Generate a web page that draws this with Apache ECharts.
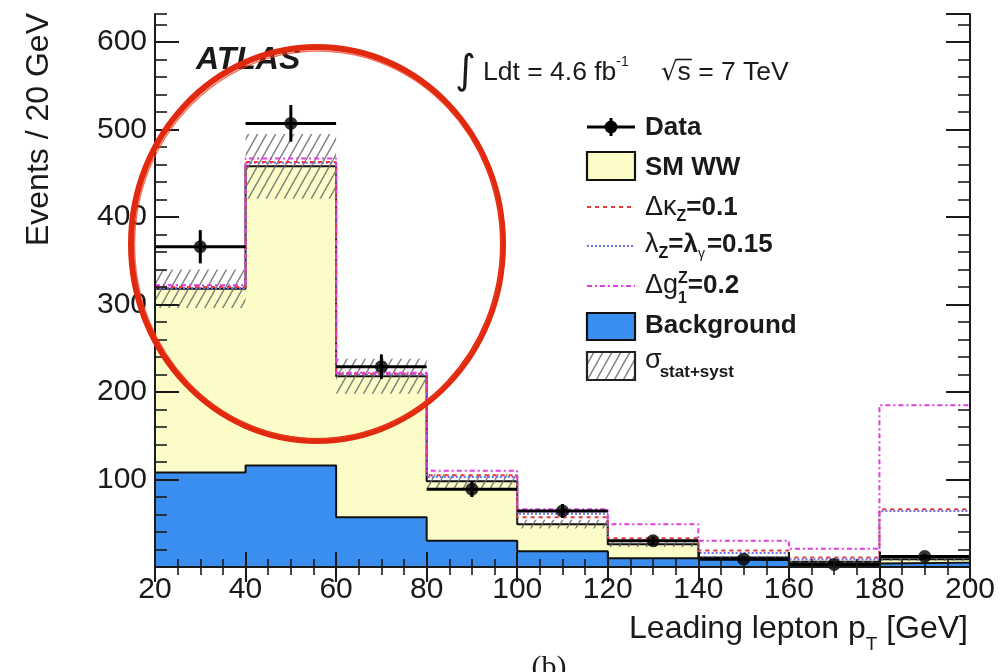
<!DOCTYPE html>
<html>
<head>
<meta charset="utf-8">
<script src="https://cdn.jsdelivr.net/npm/echarts@6/dist/echarts.min.js"></script>
<style>
  html, body { margin: 0; padding: 0; background: #ffffff; }
  #chart { width: 1003px; height: 672px; }
</style>
</head>
<body>
<div id="chart"></div>
<script>
// Leading lepton pT in WW -> l nu l nu events, 4.6 fb^-1 at sqrt(s) = 7 TeV

// bin edges [GeV]
const binEdges = [20, 40, 60, 80, 100, 120, 140, 160, 180, 200];
// observed events per bin and their statistical errors
const dataCounts = [366, 507, 229, 89, 64, 30, 9, 3, 12];
const dataErrors = [19, 21, 14, 9, 8, 5, 3, 2, 3];
// expected background and SM WW signal (stacked on the background)
const backgroundCounts = [108, 116, 57, 30, 18, 10, 8, 4, 5];
const smWWCounts = [210, 342, 161, 68, 31, 16, 3, 2, 4];
// total stat+syst uncertainty on the expectation
const totalUncertainty = [22, 37, 20, 8, 5, 3, 2, 1, 2];
// total expectation with anomalous triple gauge couplings
const dKappaZ = [320, 463, 221, 105, 57, 33, 19, 11, 66];
const lambdaZ = [319, 462, 220, 103, 61, 30, 16, 9, 64];
const dG1Z = [322, 467, 222, 110, 66, 49, 30, 21, 185];

// tick labels
const xTickLabels = [20, 40, 60, 80, 100, 120, 140, 160, 180, 200];
const yTickLabels = [100, 200, 300, 400, 500, 600];

const FAM = "'Liberation Sans', Arial, Helvetica, sans-serif";
const INK = '#1a1a1a';
const YELLOW = '#fcfcc8';
const BLUE = '#3a8ef0';
const RED = '#e23c3c';
const VIOLET = '#6f6ff0';
const MAGENTA = '#e03ce0';

const stackTotal = backgroundCounts.map((b, i) => b + smWWCounts[i]);

// histogram outline points for a step line
function stepPoints(vals) {
  const pts = vals.map((v, i) => [binEdges[i], v]);
  pts.push([binEdges[binEdges.length - 1], vals[vals.length - 1]]);
  return pts;
}

// diagonal hatch pattern for the uncertainty band
function makeHatch() {
  const c = document.createElement('canvas');
  c.width = 9; c.height = 16;
  const g = c.getContext('2d');
  g.strokeStyle = 'rgba(105,105,105,0.85)';
  g.lineWidth = 1.4;
  for (const off of [-9, 0, 9]) {
    g.beginPath();
    g.moveTo(off, 16);
    g.lineTo(off + 9, 0);
    g.stroke();
  }
  return { image: c, repeat: 'repeat' };
}
const hatch = makeHatch();

// text measurement for composed labels with sub/superscripts
const mctx = document.createElement('canvas').getContext('2d');
function textWidth(t, font) { mctx.font = font; return mctx.measureText(t).width; }
function fontOf(p) { return `${p.style || 'normal'} ${p.weight || 'normal'} ${p.size}px ${p.family || FAM}`; }

function textRun(x, y, parts, z) {
  const els = [];
  let cx = x;
  let pendingMax = 0;
  parts.forEach(p => {
    const font = fontOf(p);
    els.push({
      type: 'text', x: cx + (p.dx || 0), y: y + (p.dy || 0), z: z || 50,
      style: { text: p.t, font: font, fill: p.color || INK, align: 'left', verticalAlign: 'middle' }
    });
    const w = textWidth(p.t, font) + (p.gap || 0);
    if (p.overlay) {
      pendingMax = Math.max(pendingMax, w);
    } else {
      cx += Math.max(w, pendingMax);
      pendingMax = 0;
    }
  });
  return { els, width: cx - x };
}
function runWidth(parts) {
  let w = 0, pend = 0;
  parts.forEach(p => {
    const pw = textWidth(p.t, fontOf(p)) + (p.gap || 0);
    if (p.overlay) pend = Math.max(pend, pw); else { w += Math.max(pw, pend); pend = 0; }
  });
  return w;
}

const graphics = [];

// y-axis title
graphics.push({
  type: 'text', x: 39, y: 13, rotation: Math.PI / 2, z: 50,
  style: { text: 'Events / 20 GeV', font: `normal 32px ${FAM}`, fill: INK, align: 'right', verticalAlign: 'middle' }
});

// x-axis title, right-aligned to the frame
const xTitleParts = [
  { t: 'Leading lepton p', size: 32 },
  { t: 'T', size: 19, dy: 16 },
  { t: ' [GeV]', size: 32 }
];
const xTitleW = runWidth(xTitleParts);
graphics.push(...textRun(968 - xTitleW, 629, xTitleParts).els);

// ATLAS label
graphics.push({
  type: 'text', x: 196, y: 60, z: 50,
  style: { text: 'ATLAS', font: `italic bold 32px ${FAM}`, fill: INK, align: 'left', verticalAlign: 'middle' }
});

// luminosity and energy
graphics.push({
  type: 'text', x: 455, y: 73, z: 50,
  style: { text: '\u222B', font: `normal 40px 'DejaVu Sans', sans-serif`, fill: INK, align: 'left', verticalAlign: 'middle' }
});
graphics.push(...textRun(483, 73, [
  { t: 'Ldt = 4.6 fb', size: 26.5 },
  { t: '-1', size: 14, dy: -11 }
]).els);
const sqrtFont = `normal 26px 'DejaVu Sans', sans-serif`;
const sqrtW = textWidth('\u221A', sqrtFont);
const sW = textWidth('s', `normal 26.5px ${FAM}`);
graphics.push({
  type: 'text', x: 661, y: 73, z: 50,
  style: { text: '\u221A', font: sqrtFont, fill: INK, align: 'left', verticalAlign: 'middle' }
});
graphics.push({
  type: 'line', z: 50,
  shape: { x1: 661 + sqrtW - 1.5, y1: 59.5, x2: 661 + sqrtW + sW + 1, y2: 59.5 },
  style: { stroke: INK, lineWidth: 1.6 }
});
graphics.push(...textRun(661 + sqrtW, 73, [{ t: 's = 7 TeV', size: 26.5 }]).els);

// legend
const LX = 587, LW = 48, TX = 645;
const B = { size: 26, weight: 'bold' };
// Data
graphics.push({ type: 'line', z: 50, shape: { x1: LX, y1: 127, x2: LX + LW, y2: 127 }, style: { stroke: '#000', lineWidth: 3 } });
graphics.push({ type: 'line', z: 50, shape: { x1: LX + LW / 2, y1: 118, x2: LX + LW / 2, y2: 136 }, style: { stroke: '#000', lineWidth: 3 } });
graphics.push({ type: 'circle', z: 51, shape: { cx: LX + LW / 2, cy: 127, r: 6.5 }, style: { fill: '#000' } });
graphics.push(...textRun(TX, 127.5, [Object.assign({ t: 'Data' }, B)]).els);
// SM WW
graphics.push({ type: 'rect', z: 50, shape: { x: LX, y: 152, width: LW, height: 28 }, style: { fill: YELLOW, stroke: '#111', lineWidth: 2.2 } });
graphics.push(...textRun(TX, 168, [Object.assign({ t: 'SM WW' }, B)]).els);
// dkappa_Z
graphics.push({ type: 'line', z: 50, shape: { x1: LX, y1: 207, x2: LX + LW, y2: 207 }, style: { stroke: RED, lineWidth: 2, lineDash: [4, 4] } });
graphics.push(...textRun(TX, 207.5, [
  { t: '\u0394\u03BA', size: 27 },
  { t: 'Z', size: 16, weight: 'bold', dy: 9 },
  Object.assign({ t: '=0.1' }, B)
]).els);
// lambda_Z = lambda_gamma
graphics.push({ type: 'line', z: 50, shape: { x1: LX, y1: 246, x2: LX + LW, y2: 246 }, style: { stroke: VIOLET, lineWidth: 2, lineDash: [2, 2] } });
graphics.push(...textRun(TX, 244.5, [
  { t: '\u03BB', size: 27 },
  { t: 'Z', size: 16, weight: 'bold', dy: 9 },
  { t: '=\u03BB', size: 26, weight: 'bold' },
  { t: '\u03B3', size: 14, dy: 10, gap: 2 },
  Object.assign({ t: '=0.15' }, B)
]).els);
// dg1^Z
graphics.push({ type: 'line', z: 50, shape: { x1: LX, y1: 286, x2: LX + LW, y2: 286 }, style: { stroke: MAGENTA, lineWidth: 2, lineDash: [5, 3, 2, 3] } });
graphics.push(...textRun(TX, 285.5, [
  { t: '\u0394g', size: 27 },
  { t: 'Z', size: 16, weight: 'bold', dy: -7, overlay: true },
  { t: '1', size: 16, weight: 'bold', dy: 13 },
  Object.assign({ t: '=0.2' }, B)
]).els);
// Background
graphics.push({ type: 'rect', z: 50, shape: { x: LX, y: 313, width: LW, height: 27 }, style: { fill: BLUE, stroke: '#111', lineWidth: 2.2 } });
graphics.push(...textRun(TX, 326, [Object.assign({ t: 'Background' }, B)]).els);
// stat+syst band
graphics.push({ type: 'rect', z: 50, shape: { x: LX, y: 352, width: LW, height: 28 }, style: { fill: '#ffffff', stroke: '#222', lineWidth: 2.2 } });
graphics.push({ type: 'rect', z: 51, shape: { x: LX + 1, y: 353, width: LW - 2, height: 26 }, style: { fill: hatch } });
graphics.push(...textRun(TX, 361, [
  { t: '\u03C3', size: 27 },
  { t: 'stat+syst', size: 17, weight: 'bold', dy: 11, dx: -2 }
]).els);

// panel tag, partly below the page edge
graphics.push({
  type: 'text', x: 549, y: 653, z: 50,
  style: { text: '(b)', font: `normal 30px 'Liberation Serif', serif`, fill: INK, align: 'center', verticalAlign: 'top' }
});

// red hand-drawn ring around the low-pT bins
graphics.push({
  type: 'ellipse', z: 100,
  shape: { cx: 317, cy: 244, rx: 186, ry: 197 },
  style: { fill: 'none', stroke: '#e0290e', lineWidth: 6 }
});
graphics.push({
  type: 'ellipse', z: 101,
  shape: { cx: 318, cy: 245, rx: 183.5, ry: 194 },
  style: { fill: 'none', stroke: '#ee3a1c', lineWidth: 1.5, opacity: 0.7 }
});

const tickStyle = { color: INK, width: 2 };
const minorStyle = { color: INK, width: 1.6 };
const axisLine = { show: true, lineStyle: { color: INK, width: 2 } };

const option = {
  backgroundColor: '#ffffff',
  animation: false,
  grid: { left: 155, right: 33, top: 14, bottom: 105, containLabel: false, outerBoundsMode: 'none' },
  xAxis: [
    {
      type: 'value', position: 'bottom', min: 20, max: 200, interval: 20, z: 20,
      axisLine: axisLine,
      axisTick: { show: true, inside: true, length: 15, lineStyle: tickStyle },
      minorTick: { show: true, splitNumber: 4, length: 8, lineStyle: minorStyle },
      splitLine: { show: false }, minorSplitLine: { show: false },
      axisLabel: {
        show: true, margin: 8, fontSize: 30, fontFamily: FAM, color: INK,
        formatter: v => (xTickLabels.includes(v) ? String(v) : '')
      }
    },
    {
      type: 'value', position: 'top', min: 20, max: 200, interval: 20, z: 20,
      axisLine: axisLine,
      axisTick: { show: true, inside: true, length: 15, lineStyle: tickStyle },
      minorTick: { show: true, splitNumber: 4, length: 8, lineStyle: minorStyle },
      splitLine: { show: false }, axisLabel: { show: false }
    }
  ],
  yAxis: [
    {
      type: 'value', position: 'left', min: 0, max: 632, interval: 100, z: 20,
      axisLine: axisLine,
      axisTick: { show: true, inside: true, length: 24, lineStyle: tickStyle },
      splitLine: { show: false },
      axisLabel: {
        show: true, margin: 8, fontSize: 30, fontFamily: FAM, color: INK,
        showMaxLabel: false,
        formatter: v => (yTickLabels.includes(v) ? String(v) : '')
      }
    },
    {
      type: 'value', position: 'left', min: 0, max: 632, interval: 20, z: 20,
      axisLine: { show: false },
      axisTick: { show: true, inside: true, length: 12, lineStyle: minorStyle },
      splitLine: { show: false }, axisLabel: { show: false }
    },
    {
      type: 'value', position: 'right', min: 0, max: 632, interval: 100, z: 20,
      axisLine: axisLine,
      axisTick: { show: true, inside: true, length: 24, lineStyle: tickStyle },
      splitLine: { show: false }, axisLabel: { show: false }
    },
    {
      type: 'value', position: 'right', min: 0, max: 632, interval: 20, z: 20,
      axisLine: { show: false },
      axisTick: { show: true, inside: true, length: 12, lineStyle: minorStyle },
      splitLine: { show: false }, axisLabel: { show: false }
    }
  ],
  series: [
    {
      name: 'SM WW', type: 'line', step: 'end', data: stepPoints(stackTotal),
      symbol: 'none', silent: true, z: 1,
      lineStyle: { color: '#111', width: 2 },
      areaStyle: { color: YELLOW, opacity: 1 }
    },
    {
      name: 'Background', type: 'line', step: 'end', data: stepPoints(backgroundCounts),
      symbol: 'none', silent: true, z: 2,
      lineStyle: { color: '#111', width: 2 },
      areaStyle: { color: BLUE, opacity: 1 }
    },
    {
      name: 'stat+syst', type: 'custom', z: 3, silent: true, clip: true,
      data: stackTotal.map((t, i) => [binEdges[i], binEdges[i + 1], t, totalUncertainty[i]]),
      encode: { x: [0, 1], y: [2] },
      renderItem: (params, api) => {
        const lo = api.value(0), hi = api.value(1), c = api.value(2), s = api.value(3);
        const p1 = api.coord([lo, c + s]);
        const p2 = api.coord([hi, c - s]);
        return {
          type: 'rect',
          shape: { x: p1[0], y: p1[1], width: p2[0] - p1[0], height: p2[1] - p1[1] },
          style: { fill: hatch, stroke: null }
        };
      }
    },
    {
      name: 'lambda', type: 'line', step: 'end', data: stepPoints(lambdaZ),
      symbol: 'none', silent: true, z: 4,
      lineStyle: { color: VIOLET, width: 2, type: [2, 2] }
    },
    {
      name: 'dkappa', type: 'line', step: 'end', data: stepPoints(dKappaZ),
      symbol: 'none', silent: true, z: 5,
      lineStyle: { color: RED, width: 2, type: [4, 4] }
    },
    {
      name: 'dg1', type: 'line', step: 'end', data: stepPoints(dG1Z),
      symbol: 'none', silent: true, z: 6,
      lineStyle: { color: MAGENTA, width: 2, type: [5, 3, 2, 3] }
    },
    {
      name: 'Data errors', type: 'custom', z: 7, silent: true, clip: true,
      data: dataCounts.map((v, i) => [binEdges[i], binEdges[i + 1], v, dataErrors[i]]),
      encode: { x: [0, 1], y: [2] },
      renderItem: (params, api) => {
        const lo = api.value(0), hi = api.value(1), v = api.value(2), e = api.value(3);
        const mid = (lo + hi) / 2;
        const a = api.coord([lo, v]), b = api.coord([hi, v]);
        const top = api.coord([mid, v + e]), bot = api.coord([mid, v - e]);
        return {
          type: 'group',
          children: [
            { type: 'line', shape: { x1: a[0], y1: a[1], x2: b[0], y2: b[1] }, style: { stroke: '#000', lineWidth: 3 } },
            { type: 'line', shape: { x1: top[0], y1: top[1], x2: bot[0], y2: bot[1] }, style: { stroke: '#000', lineWidth: 3 } }
          ]
        };
      }
    },
    {
      name: 'Data', type: 'scatter', z: 8, silent: true,
      data: dataCounts.map((v, i) => [(binEdges[i] + binEdges[i + 1]) / 2, v]),
      symbol: 'circle', symbolSize: 13,
      itemStyle: { color: '#000' }
    }
  ],
  graphic: graphics
};

const chart = echarts.init(document.getElementById('chart'), null, { renderer: 'canvas' });
chart.setOption(option);
</script>
</body>
</html>
